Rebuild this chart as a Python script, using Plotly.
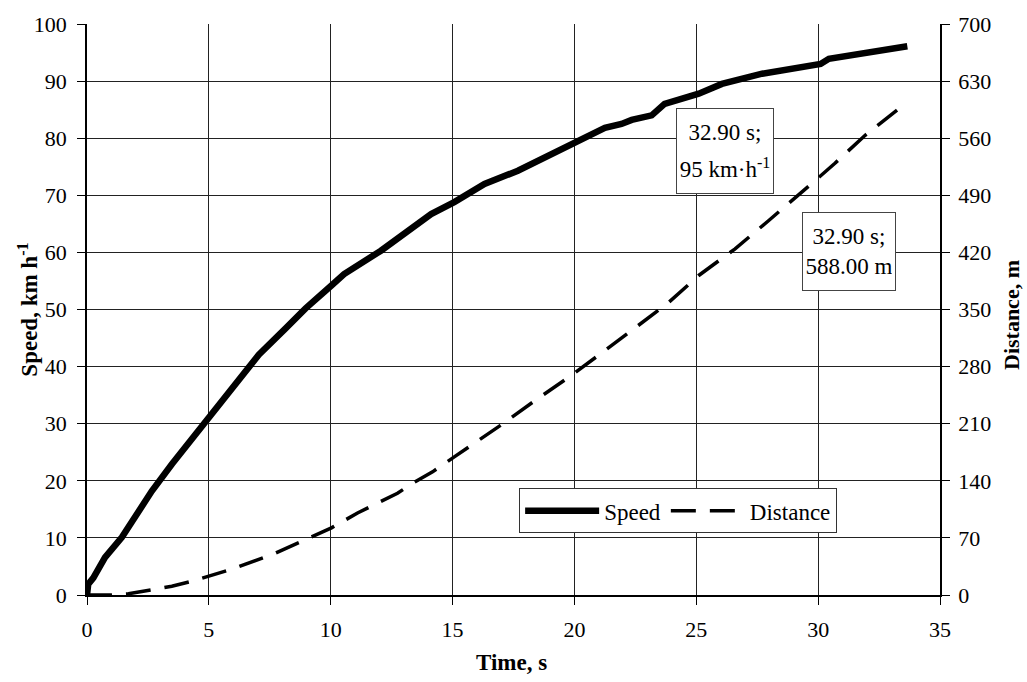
import plotly.graph_objects as go

# Speed (km/h) vs time (s)
speed_time = [0, 0.05, 0.26, 0.74, 1.43, 2.66, 3.48, 5.0, 6.09, 7.05, 8.15, 8.97,
              10.03, 10.55, 12.06, 14.12, 15.07, 16.31, 17.68, 19.05, 20.05, 21.25,
              21.93, 22.35, 23.17, 23.7, 25.1, 26.05, 27.7, 30.1, 30.44, 32.2, 33.66]
speed_vals = [0, 1.9, 3.0, 6.6, 10.1, 18.2, 22.9, 31.0, 36.8, 42.1, 46.7, 50.2,
              54.2, 56.2, 60.3, 66.7, 68.8, 72.0, 74.3, 77.2, 79.5, 81.8,
              82.5, 83.2, 84.0, 86.0, 87.8, 89.5, 91.3, 93.0, 93.9, 95.1, 96.1]

# Distance (m) vs time (s)
dist_time = [0, 0.95, 1.7, 2.66, 3.48, 4.3, 5.95, 7.73, 9.38, 10.03, 11.1, 12.74,
             13.36, 14.18, 15.07, 16.95, 18.46, 19.84, 21.21, 22.58, 23.82, 25.1,
             26.58, 27.95, 29.32, 30.07, 30.69, 31.93, 33.3]
dist_vals = [0, 0, 1.5, 6.3, 10.7, 16.8, 31.8, 51.2, 73.4, 82.3, 100.5, 124.8,
             136.9, 151.0, 169.3, 207.7, 240.0, 268.4, 298.8, 329.1, 357.4, 391.7,
             424.1, 458.5, 492.9, 513.0, 529.3, 563.6, 596.0]

x_ticks = [0, 5, 10, 15, 20, 25, 30, 35]
y_ticks = [0, 10, 20, 30, 40, 50, 60, 70, 80, 90, 100]
y2_ticks = [0, 70, 140, 210, 280, 350, 420, 490, 560, 630, 700]

ann_speed_text = ("<span style='font-size:23px'>32.90 s;</span><br>"
                  "<span style='font-size:23px'>95 km·h<sup>-1</sup></span>")
ann_dist_text = "32.90 s;<br>588.00 m"

FONT = "Liberation Serif, serif"

fig = go.Figure()
fig.add_trace(go.Scatter(x=speed_time, y=speed_vals, mode="lines", name="Speed",
                         line=dict(color="black", width=6.5), yaxis="y"))
fig.add_trace(go.Scatter(x=dist_time, y=dist_vals, mode="lines", name="Distance",
                         line=dict(color="black", width=3.5, dash="25px,14px"),
                         yaxis="y2"))

axis_common = dict(showline=True, linecolor="black", linewidth=1.5,
                   ticks="outside", ticklen=8, tickcolor="black",
                   tickfont=dict(family=FONT, size=22, color="black"),
                   zeroline=False)

fig.update_layout(
    width=1027, height=682,
    margin=dict(l=87, r=87, t=18, b=87),
    paper_bgcolor="white", plot_bgcolor="white",
    font=dict(family=FONT, color="black"),
    xaxis=dict(range=[0, 35], tickvals=x_ticks, showgrid=True, gridcolor="#222",
               gridwidth=1, ticklabelstandoff=6, **axis_common),
    yaxis=dict(range=[0, 100], tickvals=y_ticks, showgrid=True, gridcolor="#222",
               gridwidth=1, ticklabelstandoff=6, **axis_common),
    yaxis2=dict(range=[0, 700], tickvals=y2_ticks, overlaying="y", side="right",
                showgrid=False, ticklabelstandoff=4, **axis_common),
    legend=dict(orientation="h", x=0.693, xanchor="center", y=0.108, yanchor="bottom",
                bgcolor="white", bordercolor="#333", borderwidth=1,
                font=dict(family=FONT, size=23, color="black"),
                itemwidth=74, tracegroupgap=0),
    showlegend=True,
)

title_font = dict(family=FONT, size=23, color="black")
fig.add_annotation(x=0.498, y=-0.118, xref="paper", yref="paper", text="<b>Time, s</b>",
                   xanchor="center", yanchor="middle", showarrow=False, font=title_font)
fig.add_annotation(x=-0.069, y=0.5, xref="paper", yref="paper",
                   text="<b>Speed, km h<sup>-1</sup></b>", textangle=-90,
                   xanchor="center", yanchor="middle", showarrow=False, font=title_font)
fig.add_annotation(x=1.083, y=0.49, xref="paper", yref="paper",
                   text="<b>Distance, m</b>", textangle=-90,
                   xanchor="center", yanchor="middle", showarrow=False,
                   font=dict(family=FONT, size=22, color="black"))

fig.add_annotation(x=26.16, y=77.7, xref="x", yref="y", text=ann_speed_text,
                   xanchor="center", yanchor="middle",
                   showarrow=False, font=dict(family=FONT, size=29, color="black"),
                   bgcolor="white", bordercolor="#444", borderwidth=1, borderpad=3,
                   width=90, height=78)
fig.add_annotation(x=31.25, y=60.2, xref="x", yref="y", text=ann_dist_text,
                   xanchor="center", yanchor="middle",
                   showarrow=False, font=dict(family=FONT, size=23, color="black"),
                   bgcolor="white", bordercolor="#444", borderwidth=1, borderpad=3,
                   width=86, height=71)

fig.write_html("out.html")
